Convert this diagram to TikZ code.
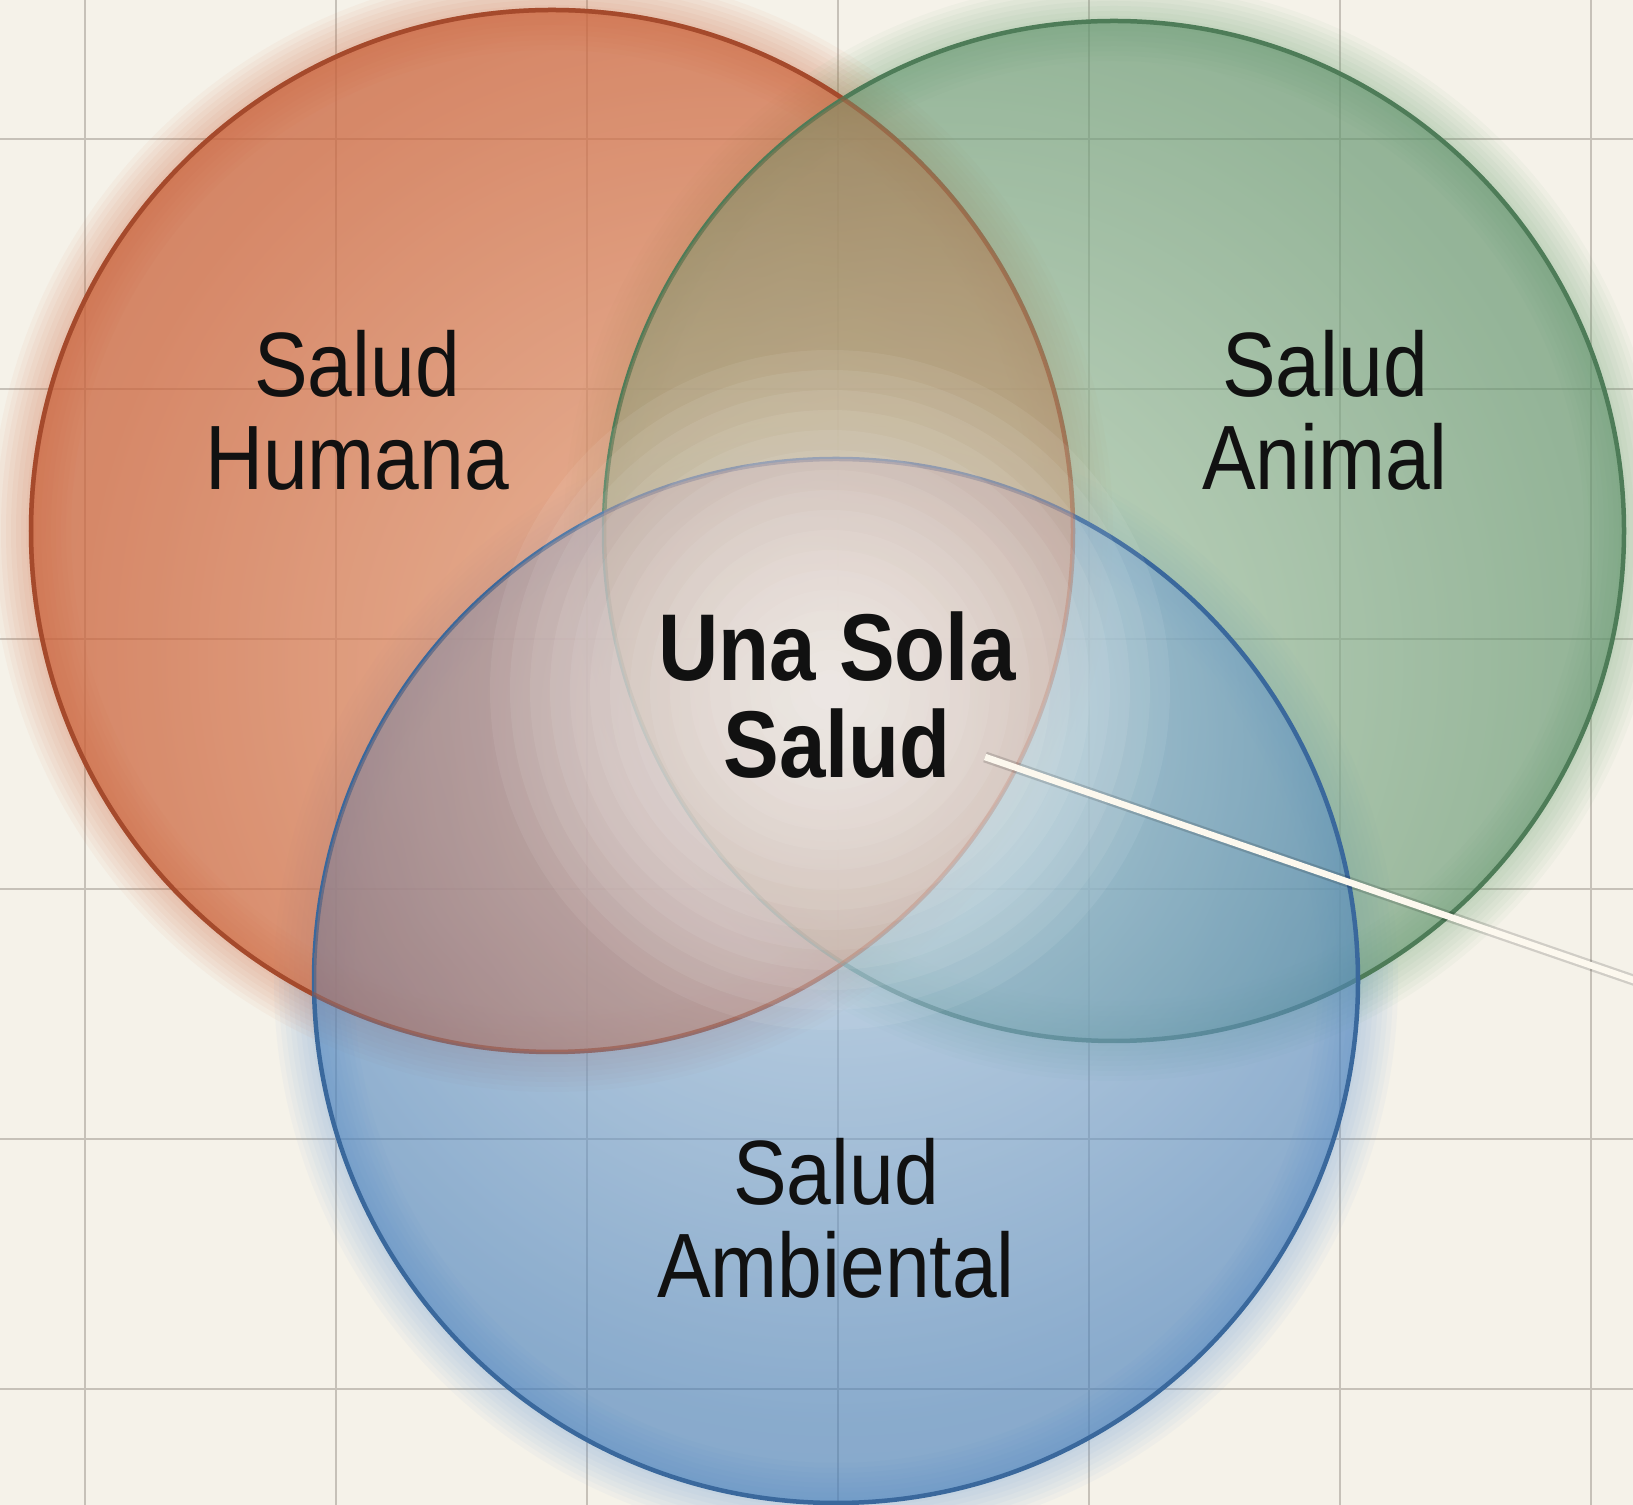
\documentclass[tikz,border=0pt]{standalone}
\usepackage{fontspec}
\setmainfont{Liberation Sans}[FakeStretch=0.88]
\usetikzlibrary{positioning}

\definecolor{paper}{RGB}{245,242,233}
\definecolor{gridc}{RGB}{198,193,184}
\definecolor{ink}{RGB}{17,17,17}
\definecolor{cream}{RGB}{252,248,238}
\definecolor{humin}{RGB}{236,176,142}
\definecolor{hummid}{RGB}{204,100,60}
\definecolor{humout}{RGB}{172,52,20}
\definecolor{humline}{RGB}{165,74,44}
\definecolor{humhalo}{RGB}{214,110,70}
\definecolor{aniin}{RGB}{185,213,188}
\definecolor{animid}{RGB}{100,150,112}
\definecolor{aniout}{RGB}{52,108,66}
\definecolor{aniline}{RGB}{78,124,88}
\definecolor{anihalo}{RGB}{110,165,120}
\definecolor{ambin}{RGB}{190,214,236}
\definecolor{ambmid}{RGB}{66,124,186}
\definecolor{ambout}{RGB}{16,80,156}
\definecolor{ambline}{RGB}{58,104,156}
\definecolor{ambhalo}{RGB}{110,160,215}

\pgfdeclareradialshading{humshade}{\pgfpoint{14bp}{-10bp}}{color(0bp)=(humin); color(30bp)=(hummid); color(64bp)=(humout)}
\pgfdeclareradialshading{anishade}{\pgfpoint{-14bp}{-10bp}}{color(0bp)=(aniin); color(30bp)=(animid); color(64bp)=(aniout)}
\pgfdeclareradialshading{ambshade}{\pgfpoint{0bp}{16bp}}{color(0bp)=(ambin); color(30bp)=(ambmid); color(66bp)=(ambout)}

\tikzstyle{lbl} = [align=center,text=ink,inner sep=0pt,font=\fontsize{26}{26.5}\selectfont]
\tikzstyle{ring} = [line width=0.45mm]
\tikzset{glow/.style={opacity=.05,line width=#1}}

\begin{document}
\begin{tikzpicture}
  \useasboundingbox (0,0) rectangle (16.33,-15.05);
  \fill[paper] (0,0) rectangle (16.33,-15.05);

  % grid
  \foreach \x in {0.85,3.36,5.87,8.38,10.89,13.40,15.91}
    \draw[gridc,line width=0.25mm] (\x,0) -- (\x,-15.05);
  \foreach \y in {1.39,3.89,6.39,8.89,11.39,13.89}
    \draw[gridc,line width=0.25mm] (0,-\y) -- (16.33,-\y);

  \coordinate (hum) at (5.52,-5.31);
  \coordinate (ani) at (11.14,-5.31);
  \coordinate (amb) at (8.36,-9.81);

  % halos
  \foreach \i in {1,...,8} {
    \draw[humhalo,glow=\i*1mm] (hum) circle (5.21);
    \draw[anihalo,glow=\i*1mm] (ani) circle (5.10);
    \draw[ambhalo,glow=\i*1mm] (amb) circle (5.22);
  }

  % disks
  \shade[shading=humshade,fill opacity=.74] (hum) circle (5.21);
  \draw[humline,ring] (hum) circle (5.21);
  \shade[shading=anishade,fill opacity=.66] (ani) circle (5.10);
  \draw[aniline,ring] (ani) circle (5.10);
  \shade[shading=ambshade,fill opacity=.6] (amb) circle (5.22);
  \draw[ambline,ring] (amb) circle (5.22);

  % bring some red back into the lenses
  \begin{scope}
    \clip (amb) circle (5.22);
    \shade[shading=humshade,fill opacity=.3] (hum) circle (5.21);
  \end{scope}
  \begin{scope}
    \clip (ani) circle (5.10);
    \shade[shading=humshade,fill opacity=.25] (hum) circle (5.21);
  \end{scope}
  \draw[humline,ring,opacity=.35] (hum) circle (5.21);

  % light in the middle
  \coordinate (core) at (8.30,-6.90);
  \foreach \r in {0.2,0.4,...,3.4}
    \fill[white,opacity=.07] (core) circle (\r);

  \node[lbl] (humT) at (3.57,-4.10) {Salud\\Humana};
  \node[lbl] (aniT) at (13.25,-4.10) {Salud\\Animal};
  \node[lbl,font=\fontsize{27}{27.5}\selectfont\bfseries] (unaT) at (8.37,-6.95) {Una Sola\\Salud};
  \node[lbl] (ambT) at (8.36,-12.18) {Salud\\Ambiental};

  \coordinate (ptrA) at (9.85,-7.57);
  \coordinate (ptrB) at (16.45,-9.84);
  \draw[black,opacity=.15,line width=1.1mm] (ptrA) -- (ptrB);
  \draw[cream,line width=0.65mm] (ptrA) -- (ptrB);
\end{tikzpicture}
\end{document}
